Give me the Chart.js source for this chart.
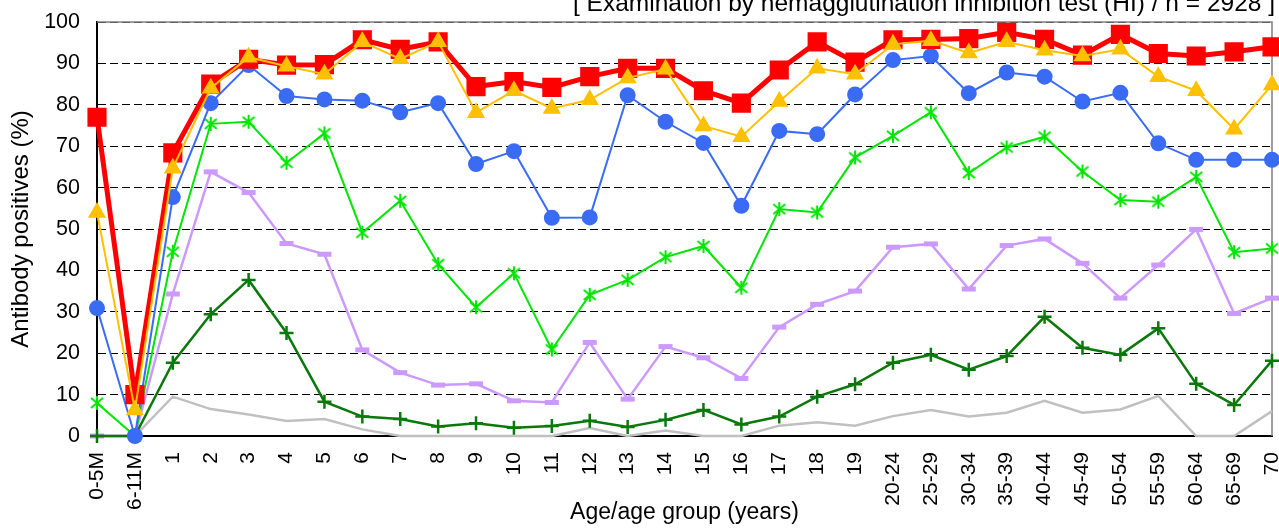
<!DOCTYPE html>
<html>
<head>
<meta charset="utf-8">
<script src="https://cdn.jsdelivr.net/npm/chart.js@4/dist/chart.umd.min.js"></script>
<style>
  html, body { margin: 0; padding: 0; background: #fff; }
  #wrap { width: 1279px; height: 530px; }
</style>
</head>
<body>
<div id="wrap"><canvas id="chart"></canvas></div>
<script>
const ageGroups = ['0-5M', '6-11M', '1', '2', '3', '4', '5', '6', '7', '8', '9', '10', '11', '12', '13', '14', '15', '16', '17', '18', '19',
  '20-24', '25-29', '30-34', '35-39', '40-44', '45-49', '50-54', '55-59', '60-64', '65-69', '70'];

const redSeries = [77, 10, 68.4, 85, 91, 89.6, 89.7, 95.7, 93.4, 95.2, 84.4, 85.6, 84.2, 86.8, 88.8, 88.8, 83.4, 80.4, 88.4, 95.2,
  90.3, 95.7, 95.8, 96.0, 97.5, 95.8, 92.0, 97.0, 92.4, 91.8, 92.8, 94.0];
const yellowSeries = [54, 6.3, 64.7, 84, 91.5, 89.3, 87.4, 95.2, 91.1, 95.2, 78.1, 83.4, 79.1, 81.2, 86.5, 88.6, 74.9, 72.3, 80.8, 88.8,
  87.4, 94.6, 95.5, 92.5, 95.2, 93.2, 91.8, 93.4, 86.8, 83.4, 74.1, 84.8];
const blueSeries = [30.9, 0, 57.7, 80.4, 89.6, 82.1, 81.3, 81.0, 78.2, 80.4, 65.7, 68.8, 52.7, 52.8, 82.3, 75.9, 70.8, 55.6, 73.7, 72.9,
  82.5, 90.8, 91.8, 82.8, 87.8, 86.8, 80.8, 82.9, 70.7, 66.7, 66.7, 66.7];
const greenSeries = [8.0, 0, 44.5, 75.4, 75.9, 66, 73.1, 49.1, 56.8, 41.5, 31.1, 39.3, 20.9, 34.1, 37.7, 43.2, 45.9, 35.8, 54.8, 54.0,
  67.3, 72.5, 78.2, 63.5, 69.7, 72.3, 63.9, 57.0, 56.6, 62.6, 44.4, 45.3];
const lavenderSeries = [0, 0, 34.3, 63.8, 58.8, 46.5, 43.9, 20.8, 15.3, 12.3, 12.6, 8.5, 8.1, 22.6, 8.9, 21.6, 18.9, 13.9, 26.3, 31.8,
  35.0, 45.6, 46.4, 35.5, 46.0, 47.6, 41.7, 33.3, 41.3, 49.9, 29.6, 33.3];
const darkGreenSeries = [0, 0, 17.7, 29.4, 37.7, 24.9, 8.3, 4.7, 4.1, 2.3, 3.1, 2.0, 2.4, 3.7, 2.2, 3.9, 6.3, 2.8, 4.7, 9.5,
  12.5, 17.7, 19.6, 16.0, 19.3, 28.8, 21.3, 19.6, 26.0, 12.6, 7.5, 18.2];
const graySeries = [0, 0, 9.5, 6.5, 5.2, 3.6, 4.1, 1.6, 0, 0, 0, 0, 0, 1.9, 0, 1.3, 0, 0, 2.5, 3.3,
  2.5, 4.8, 6.3, 4.7, 5.6, 8.5, 5.6, 6.4, 9.7, 0, 0, 6.0];

const titleText = '[ Examination by hemagglutination inhibition test (HI) / n = 2928 ]';
const font = 'Arial, "Liberation Sans", sans-serif';

// asterisk marker (x with a vertical stroke)
function asterisk(color) {
  const c = document.createElement('canvas');
  c.width = c.height = 16;
  const g = c.getContext('2d');
  g.strokeStyle = color;
  g.lineWidth = 2;
  g.beginPath();
  g.moveTo(8, 1); g.lineTo(8, 15);
  g.moveTo(2, 3); g.lineTo(14, 13);
  g.moveTo(2, 13); g.lineTo(14, 3);
  g.stroke();
  return c;
}

const frame = {
  id: 'frame',
  beforeDatasetsDraw(chart) {
    const { ctx, chartArea: a } = chart;
    ctx.save();
    ctx.strokeStyle = '#808080';
    ctx.lineWidth = 1.5;
    ctx.beginPath();
    ctx.moveTo(a.left, a.top);
    ctx.lineTo(a.right, a.top);
    ctx.lineTo(a.right, a.bottom);
    ctx.stroke();
    ctx.restore();
  },
  afterDraw(chart) {
    const ctx = chart.ctx;
    ctx.save();
    ctx.fillStyle = '#000';
    ctx.font = '24.5px ' + font;
    ctx.textAlign = 'right';
    ctx.textBaseline = 'alphabetic';
    ctx.fillText(titleText, 1275, 11);
    ctx.restore();
  }
};

const line = (data, color, width, style, radius, extra) => Object.assign({
  data: data,
  borderColor: color,
  backgroundColor: color,
  borderWidth: width,
  pointStyle: style,
  pointRadius: radius,
  pointHoverRadius: radius,
  pointBorderColor: color,
  pointBackgroundColor: color,
  tension: 0,
  clip: false
}, extra || {});

new Chart(document.getElementById('chart'), {
  type: 'line',
  data: {
    labels: ageGroups,
    datasets: [
      line(yellowSeries, '#FFC000', 2, 'triangle', 8.5),
      line(redSeries, '#FF0000', 5, 'rect', 10),
      line(blueSeries, '#3A6BF5', 2, 'circle', 7),
      line(greenSeries, '#00E600', 2, asterisk('#00E600'), 8),
      line(darkGreenSeries, '#0A780A', 2.5, 'cross', 7, { pointBorderWidth: 2.5 }),
      line(lavenderSeries, '#CC99FF', 2.5, 'line', 7, { pointBorderWidth: 5 }),
      line(graySeries, '#C0C0C0', 2.5, 'circle', 0)
    ]
  },
  options: {
    responsive: true,
    maintainAspectRatio: false,
    animation: false,
    layout: { autoPadding: false, padding: { top: 22, right: 7, left: 0, bottom: 0 } },
    plugins: {
      legend: { display: false },
      tooltip: { enabled: false }
    },
    scales: {
      x: {
        offset: false,
        grid: { display: false, drawTicks: false },
        border: { display: true, color: '#000', width: 2 },
        ticks: {
          color: '#000',
          font: { family: font, size: 21 },
          autoSkip: false,
          minRotation: 90,
          maxRotation: 90,
          padding: 16
        },
        title: {
          display: true,
          text: 'Age/age group (years)',
          color: '#000',
          font: { family: font, size: 23 },
          padding: { top: 0, bottom: 4 }
        },
        afterFit(s) { s.height = 94; s.paddingLeft = 0; s.paddingRight = 0; }
      },
      y: {
        min: 0,
        max: 100,
        ticks: {
          stepSize: 10,
          color: '#000',
          font: { family: font, size: 21.5 },
          padding: 17
        },
        grid: { color: '#000', lineWidth: 1, drawTicks: false },
        border: { display: true, color: '#000', width: 2, dash: [8, 4] },
        title: {
          display: true,
          text: 'Antibody positives (%)',
          color: '#000',
          font: { family: font, size: 24 },
          padding: { top: 7, bottom: 0 }
        },
        afterFit(s) { s.width = 97; s.paddingTop = 0; s.paddingBottom = 0; }
      }
    }
  },
  plugins: [frame]
});
</script>
</body>
</html>
